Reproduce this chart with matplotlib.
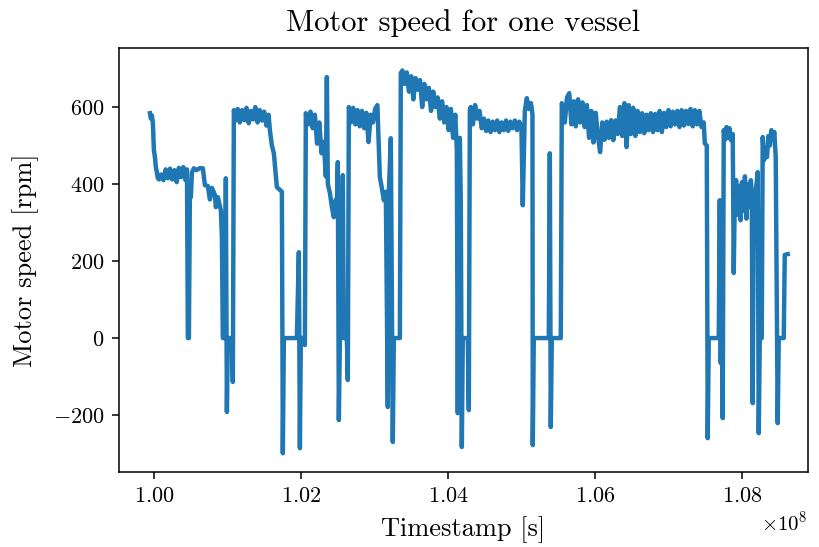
import matplotlib
matplotlib.use("Agg")
import matplotlib.pyplot as plt
import numpy as np

plt.rcParams["font.family"] = "serif"
plt.rcParams["font.serif"] = ["cmr10"]
plt.rcParams["mathtext.fontset"] = "cm"
plt.rcParams["axes.formatter.use_mathtext"] = True

# timestamps in units of 1e8 s and motor speed in rpm
timestamp_e8 = [
    # start, first plateau around 420 rpm
    0.99946, 0.99959, 0.99973, 0.99986, 1.00000, 1.00014, 1.00027, 1.00041, 1.00054,
    1.0007, 1.0010, 1.0013, 1.0016, 1.0019, 1.0022, 1.0025, 1.0028, 1.0031, 1.0034,
    1.0037, 1.0040, 1.0043, 1.0045,
    1.00462, 1.00476, 1.00490, 1.00503, 1.00517, 1.00544, 1.0058, 1.0062, 1.00666,
    1.00694, 1.00734, 1.00762, 1.00789, 1.00830, 1.00843, 1.00870, 1.00911, 1.00925,
    1.00938, 1.00966, 1.00979, 1.00993, 1.01006, 1.01061, 1.01074, 1.01088,
    # plateau near 580 rpm
    1.0111, 1.0114, 1.0117, 1.0120, 1.0123, 1.0126, 1.0129, 1.0132, 1.0135, 1.0138,
    1.0141, 1.0144, 1.0147, 1.0150, 1.0153, 1.0156,
    1.01578, 1.01605, 1.01632, 1.01659, 1.01673, 1.01714, 1.01741, 1.01754, 1.01768,
    1.01945, 1.01972, 1.01986, 1.01999, 1.02040, 1.02054, 1.02067,
    1.0210, 1.0213, 1.0216, 1.0219, 1.0222, 1.0225, 1.0228, 1.0231,
    1.02339, 1.02353, 1.02366, 1.02394, 1.02421, 1.02448, 1.02475, 1.02489, 1.02502,
    1.02516, 1.02530, 1.02557, 1.02570, 1.02584, 1.02625, 1.02638, 1.02652,
    1.0268, 1.0271, 1.0274, 1.0277, 1.0280, 1.0283, 1.0286, 1.0289, 1.0292, 1.0295,
    1.0298, 1.0301, 1.0304,
    1.03074, 1.03101, 1.03128, 1.03155, 1.03182, 1.03196, 1.03223, 1.03250, 1.03264,
    1.03346, 1.03359,
    # high plateau near 650 rpm
    1.0338, 1.0341, 1.0344, 1.0347, 1.0350, 1.0353, 1.0356, 1.0359, 1.0362, 1.0365,
    1.0368, 1.0371, 1.0374, 1.0377, 1.0380, 1.0383, 1.0386, 1.0389, 1.0392, 1.0395,
    1.0398, 1.0401, 1.0404, 1.0407, 1.0410,
    1.04121, 1.04134, 1.04148, 1.04162, 1.04175, 1.04189, 1.04202, 1.04270, 1.04284,
    1.04298,
    1.0431, 1.0434, 1.0437, 1.0440, 1.0443, 1.0446, 1.0449, 1.0452, 1.0455, 1.0458,
    1.0461, 1.0464, 1.0467, 1.0470, 1.0473, 1.0476, 1.0479, 1.0482, 1.0485, 1.0488,
    1.0491, 1.0494, 1.0497, 1.0500,
    1.05018, 1.05046, 1.05073, 1.05100, 1.0513, 1.05150, 1.05154, 1.05168,
    1.05372, 1.05386, 1.05399, 1.05413, 1.05535, 1.05549,
    # long plateau near 560 rpm
    1.0556, 1.0559, 1.0562, 1.0565, 1.0568, 1.0571, 1.0574, 1.0577, 1.0580, 1.0583,
    1.0586, 1.0589, 1.0592, 1.0595, 1.0598, 1.0601, 1.0604, 1.0607, 1.0610, 1.0613,
    1.0616, 1.0619, 1.0622, 1.0625, 1.0628, 1.0631, 1.0634, 1.0637, 1.0640, 1.0643,
    1.0646, 1.0649, 1.0652, 1.0655, 1.0658, 1.0661, 1.0664, 1.0667, 1.0670, 1.0673,
    1.0676, 1.0679, 1.0682, 1.0685, 1.0688, 1.0691, 1.0694, 1.0697, 1.0700, 1.0703,
    1.0706, 1.0709, 1.0712, 1.0715, 1.0718, 1.0721, 1.0724, 1.0727, 1.0730, 1.0733,
    1.0736, 1.0739, 1.0742, 1.0745, 1.0748,
    1.07494, 1.07521, 1.07534, 1.07548, 1.07684, 1.07698, 1.07711, 1.07725, 1.07738,
    # end section
    1.07752, 1.0777, 1.0779, 1.0781, 1.0783, 1.0785, 1.07874, 1.07888, 1.07902,
    1.0792, 1.0794, 1.0796, 1.0798, 1.0800, 1.0802, 1.0804, 1.0806, 1.0808, 1.0810,
    1.0812, 1.08133, 1.08146, 1.08160, 1.08187, 1.08214, 1.08228, 1.08242, 1.08269,
    1.08282, 1.0830, 1.0832, 1.0834, 1.0836, 1.0838, 1.0840, 1.0842, 1.0844, 1.08459,
    1.08486, 1.08500, 1.08568, 1.08582, 1.08622,
]

motor_speed = [
    584, 570, 578, 560, 488, 470, 444, 430, 415,
    412, 425, 410, 438, 415, 440, 412, 436, 405, 442,
    418, 444, 410, 438,
    0, 0, 380, 366, 430, 441, 436, 441, 441,
    397, 395, 360, 390, 372, 340, 366, 332, 262,
    0, 0, 415, -192, 0, 0, -114, 592,
    565, 595, 560, 592, 566, 598, 558, 590, 568, 600,
    560, 592, 565, 588, 552, 580,
    540, 500, 480, 420, 392, 385, 380, -299, 0,
    0, 223, -286, 0, 0, -18, 584,
    555, 588, 545, 580, 505, 560, 480, 510,
    420, 678, 400, 377, 340, 314, 360, 330, 457,
    -213, 0, 0, 423, 0, 0, -109, 600,
    560, 598, 555, 592, 550, 590, 545, 585, 509, 580,
    560, 595, 605,
    418, 390, 358, 380, -179, 380, 519, -270, 0,
    0, 688,
    695, 660, 690, 640, 680, 620, 675, 645, 670, 600,
    660, 620, 650, 590, 640, 600, 625, 570, 615, 560,
    600, 540, 595, 520, 580,
    488, -195, 500, 520, 350, -283, 0, 0, -187,
    592,
    600, 555, 605, 570, 590, 545, 570, 538, 565, 535,
    562, 540, 565, 535, 560, 540, 565, 538, 562, 545,
    565, 540, 562, 548,
    345, 590, 623, 595, 610, 580, -278, 0,
    0, 480, -231, 0, 0, 610,
    600, 560, 625, 636, 555, 615, 550, 620, 560, 612,
    548, 605, 520, 590, 508, 585, 525, 483, 560, 515,
    562, 520, 566, 514, 565, 530, 600, 525, 610, 496,
    605, 530, 598, 525, 590, 535, 584, 532, 580, 540,
    584, 535, 582, 540, 590, 535, 585, 548, 592, 550,
    588, 555, 590, 548, 592, 552, 590, 556, 595, 550,
    592, 555, 590, 548, 560,
    506, 500, -260, 0, 0, 358, -65, 200, -208,
    540, 515, 548, 520, 545, 514, 530, 169, 366,
    410, 320, 395, 306, 405, 330, 420, 310, 400, 340,
    410, 380, -169, 360, 380, 431, -247, 0, 0,
    522, 462, 495, 470, 525, 500, 540, 520, 535, 470,
    -221, 0, 0, 216, 218,
]

fig, ax = plt.subplots(figsize=(8.2, 5.47), dpi=100)
fig.subplots_adjust(left=0.145, right=0.985, top=0.912, bottom=0.137)

ax.plot(np.array(timestamp_e8) * 1e8, motor_speed, color="#1f77b4", lw=3.2)
ax.set_xlim(0.99524e8, 1.08894e8)
ax.set_ylim(-348, 753)
ax.set_xticks(np.array([1.00, 1.02, 1.04, 1.06, 1.08]) * 1e8)
ax.set_yticks([-200, 0, 200, 400, 600])

ax.set_title("Motor speed for one vessel", fontsize=22, pad=12)
ax.set_xlabel("Timestamp [s]", fontsize=19, labelpad=7)
ax.set_ylabel("Motor speed [rpm]", fontsize=19, labelpad=10)
ax.tick_params(labelsize=16, length=5, width=1.1, pad=5.5)
ax.xaxis.get_offset_text().set_fontsize(15)
for s in ax.spines.values():
    s.set_linewidth(1.1)

fig.savefig("out.png", dpi=100)
